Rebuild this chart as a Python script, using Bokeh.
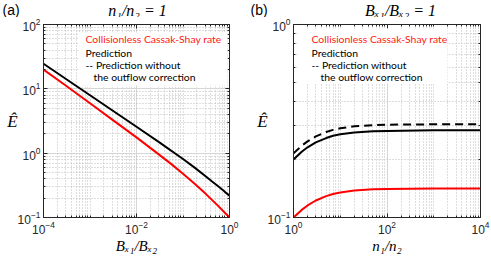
from bokeh.plotting import figure
from bokeh.layouts import row, column
from bokeh.models import (Range1d, FixedTicker, LogAxis, Label, BoxAnnotation,
                          CustomJSTickFormatter)
from bokeh.embed import file_html
from bokeh.resources import INLINE

# ---------------- data ----------------
# panel (a): n1/n2 = 1, E-hat versus Bx1/Bx2
a_x_cassak = [1e-4, 3.16e-4, 1e-3, 3.16e-3, 1e-2, 3.16e-2, 5.62e-2, 0.1, 0.178, 0.316, 0.562, 1.0]
a_cassak = [19.95, 10.96, 5.96, 3.236, 1.758, 0.933, 0.676, 0.479, 0.335, 0.229, 0.153, 0.100]
a_x_pred = [1e-4, 3.16e-4, 1e-3, 3.16e-3, 1e-2, 3.16e-2, 0.1, 0.178, 0.316, 0.422, 0.562, 0.75, 0.87, 1.0]
a_pred = [24.55, 13.96, 7.94, 4.52, 2.57, 1.455, 0.813, 0.596, 0.431, 0.363, 0.309, 0.260, 0.237, 0.219]

# panel (b): Bx1/Bx2 = 1, E-hat versus n1/n2
b_x = [1, 1.5, 2, 3, 5, 7, 10, 20, 50, 100, 1000, 10000]
b_cassak = [0.100, 0.1095, 0.1155, 0.1225, 0.129, 0.1323, 0.1348, 0.138, 0.140, 0.1407, 0.1414, 0.1414]
b_pred = [0.200, 0.219, 0.231, 0.245, 0.258, 0.265, 0.270, 0.276, 0.280, 0.281, 0.283, 0.283]
b_pred_noout = [0.215, 0.2355, 0.248, 0.263, 0.2775, 0.2845, 0.290, 0.2967, 0.301, 0.3025, 0.304, 0.304]

# ticks
a_x_major = [1e-4, 1e-2, 1.0]
a_y_major = [0.1, 1.0, 10.0, 100.0]
b_x_major = [1.0, 100.0, 10000.0]
b_y_major = [0.1, 1.0]

legend_lines = ["Collisionless Cassak-Shay rate", "Prediction",
                "-- Prediction without", "the outflow correction"]
titles = ["n\u2081/n\u2082 = 1", "B\u2093\u2081/B\u2093\u2082 = 1"]
xlabels = ["B\u2093\u2081/B\u2093\u2082", "n\u2081/n\u2082"]
panel_tags = ["(a)", "(b)"]
ylabel = "\u00ca"


def minor_list(lo_exp, hi_exp):
    out = []
    for e in range(lo_exp, hi_exp):
        for m in range(1, 10):
            out.append(m * 10.0 ** e)
    out.append(10.0 ** hi_exp)
    return out


AX = "#262626"
W = 491
HH = 17            # header height
H = 256 - HH       # panel height
BT, BB = 7, 39
FH = H - BT - BB


def make_panel(width, bl, br, xr, yr, xmaj, xmin, ymaj, ymin, xlab):
    p = figure(width=width, height=H, x_axis_type="log", y_axis_type="log",
               x_range=Range1d(*xr), y_range=Range1d(*yr),
               output_backend="svg", toolbar_location=None,
               min_border_left=bl, min_border_right=br,
               min_border_top=BT, min_border_bottom=BB)
    p.outline_line_color = AX
    p.outline_line_width = 1
    xa = p.below[0]
    ya = p.left[0]
    xt = FixedTicker(ticks=xmaj, minor_ticks=xmin)
    yt = FixedTicker(ticks=ymaj, minor_ticks=ymin)
    xa.ticker = xt
    ya.ticker = yt
    p.xgrid[0].ticker = xt
    p.ygrid[0].ticker = yt
    top = LogAxis(ticker=xt, formatter=CustomJSTickFormatter(code="return ''"))
    right = LogAxis(ticker=yt, formatter=CustomJSTickFormatter(code="return ''"))
    p.add_layout(top, "above")
    p.add_layout(right, "right")
    for ax in [xa, ya, top, right]:
        ax.axis_line_color = AX
        ax.major_tick_line_color = AX
        ax.minor_tick_line_color = AX
        ax.major_tick_in = 4
        ax.major_tick_out = 0
        ax.minor_tick_in = 2
        ax.minor_tick_out = 0
        ax.major_label_text_font = "Liberation Sans"
        ax.major_label_text_font_size = "12px"
        ax.major_label_text_color = AX
        ax.major_label_standoff = 3
    for ax in [top, right]:
        ax.major_label_text_font_size = "1px"
        ax.major_label_standoff = 0
    xa.axis_label = xlab
    xa.axis_label_text_font = "Liberation Serif"
    xa.axis_label_text_font_style = "italic"
    xa.axis_label_text_font_size = "15px"
    xa.axis_label_text_color = "black"
    xa.axis_label_standoff = 1
    ya.axis_label = ylabel
    ya.axis_label_orientation = "horizontal"
    ya.axis_label_text_font = "Liberation Serif"
    ya.axis_label_text_font_style = "italic"
    ya.axis_label_text_font_size = "17px"
    ya.axis_label_text_color = "black"
    ya.axis_label_standoff = -3
    for g in [p.xgrid[0], p.ygrid[0]]:
        g.grid_line_color = "#d6d6d6"
        g.grid_line_width = 1
        g.minor_grid_line_color = "#bdbdbd"
        g.minor_grid_line_dash = "1 2"
        g.minor_grid_line_width = 1
    return p


def add_legend_text(p, box, text_x, indent_x):
    p.add_layout(BoxAnnotation(left=box[0], right=box[1], top=FH - box[2], bottom=FH - box[3],
                               left_units="screen", right_units="screen",
                               top_units="screen", bottom_units="screen",
                               fill_color="white", fill_alpha=1.0, line_alpha=0))
    ys = [14.8, 28.3, 40.5, 52.5]
    cols = ["#ff2010", "black", "black", "black"]
    for k, (t, yy, c) in enumerate(zip(legend_lines, ys, cols)):
        p.add_layout(Label(x=indent_x if k == 3 else text_x, y=FH - yy, x_units="screen", y_units="screen",
                           text=t, text_font="Lato", text_font_size="10.4px", text_color=c,
                           text_baseline="middle", text_align="left"))


# header with panel tags and titles
head = figure(width=W, height=HH, x_range=Range1d(0, W), y_range=Range1d(HH, 0),
              output_backend="svg", toolbar_location=None, min_border=0,
              x_axis_type=None, y_axis_type=None)
head.outline_line_color = None
head.xgrid.visible = False
head.ygrid.visible = False
for tag, tx in zip(panel_tags, [2, 250]):
    head.add_layout(Label(x=tx, y=9.5, text=tag, text_font="Liberation Sans", text_font_size="14px",
                          text_color="black", text_baseline="middle", text_align="left"))
for t, cx in zip(titles, [137, 400]):
    head.add_layout(Label(x=cx, y=9.5, text=t, text_font="Liberation Serif", text_font_style="italic",
                          text_font_size="16px", text_color="black",
                          text_baseline="middle", text_align="center"))

# panel (a)
WA, BLA, BRA = 245, 43, 16
FWA = WA - BLA - BRA
pa = make_panel(WA, BLA, BRA, (1e-4, 1.0), (0.1, 100.0), a_x_major, minor_list(-4, 0),
                a_y_major, minor_list(-1, 2), xlabels[0])
pa.line(a_x_cassak, a_cassak, line_color="red", line_width=2)
pa.line(a_x_pred, a_pred, line_color="black", line_width=2)
add_legend_text(pa, box=(35, FWA - 2, 8, 61), text_x=42, indent_x=50)

# panel (b)
WB, BLB, BRB = 246, 48, 11
FWB = WB - BLB - BRB
pb = make_panel(WB, BLB, BRB, (1.0, 1e4), (0.1, 1.0), b_x_major, minor_list(0, 4),
                b_y_major, minor_list(-1, 0), xlabels[1])
pb.line(b_x, b_cassak, line_color="red", line_width=2)
pb.line(b_x, b_pred, line_color="black", line_width=2)
pb.line(b_x, b_pred_noout, line_color="black", line_width=2, line_dash="8 5")
add_legend_text(pb, box=(4, 154, 4, 59), text_x=18, indent_x=27)

layout = column(head, row(pa, pb))
open("out.html", "w").write(file_html(layout, INLINE))
